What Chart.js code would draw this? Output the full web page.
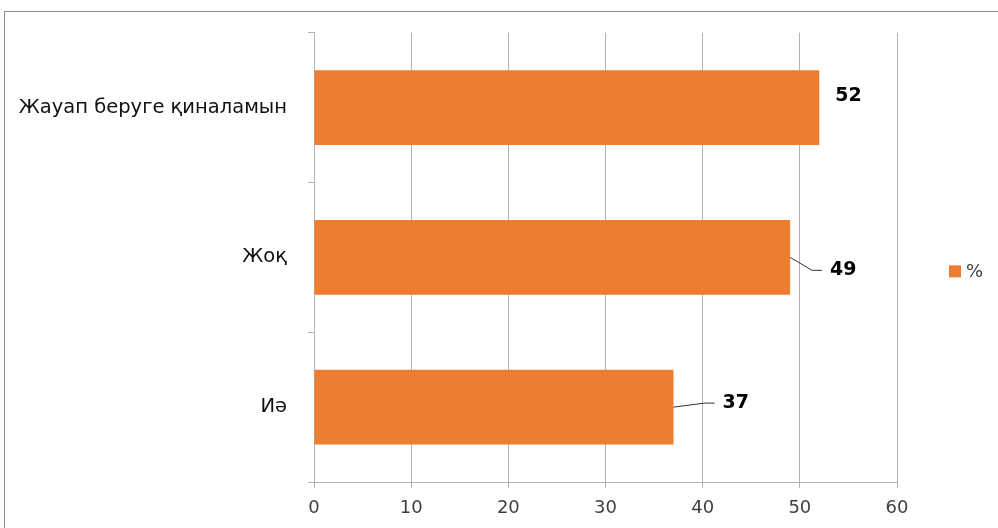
<!DOCTYPE html>
<html><head><meta charset="utf-8">
<script src="https://cdn.jsdelivr.net/npm/chart.js@4/dist/chart.umd.min.js"></script>
<style>
html,body{margin:0;padding:0;background:#fff;overflow:hidden}
#frame{position:absolute;left:4px;top:11px;width:1200px;height:700px;border:1px solid #8c8c8c;box-sizing:border-box}
#wrap{position:absolute;left:0;top:0;width:998px;height:528px}
</style></head>
<body>
<div id="frame"></div>
<div id="wrap"><canvas id="c" width="998" height="528"></canvas></div>
<script>
const categories = ['Жауап беруге қиналамын', 'Жоқ', 'Иә'];
const seriesName = '%';
const values = [52, 49, 37];
const xTicks = [0, 10, 20, 30, 40, 50, 60];

// label placement styles (offsets relative to bar end / bar centre)
const labelStyle = [
  {dx: 16, dy: -12, leader: false},
  {dx: 40, dy: 13, leader: true},
  {dx: 49, dy: -4, leader: true}
];

const orange = '#ED7D31';
const grid = '#b3b3b3';

const labelsPlugin = {
  id: 'labels',
  afterDatasetsDraw(chart) {
    const ctx = chart.ctx;
    const meta = chart.getDatasetMeta(0);
    ctx.save();
    meta.data.forEach((bar, i) => {
      const s = labelStyle[i];
      const x0 = bar.x, y0 = bar.y;
      const lx = x0 + s.dx, ly = y0 + s.dy;
      if (s.leader) {
        ctx.strokeStyle = '#333';
        ctx.lineWidth = 1;
        ctx.beginPath();
        ctx.moveTo(x0, y0);
        ctx.lineTo(lx - 18, ly);
        ctx.lineTo(lx - 8, ly);
        ctx.stroke();
      }
      ctx.fillStyle = '#000';
      ctx.font = 'bold 19px "DejaVu Sans"';
      ctx.textAlign = 'left';
      ctx.textBaseline = 'middle';
      ctx.fillText(String(values[i]), lx, ly);
    });
    // legend
    const ca = chart.chartArea;
    const cy = (ca.top + ca.bottom) / 2 + 14;
    ctx.fillStyle = orange;
    ctx.fillRect(949, cy - 6, 12, 12);
    ctx.fillStyle = '#404040';
    ctx.font = '18px "DejaVu Sans"';
    ctx.textBaseline = 'middle';
    ctx.fillText(seriesName, 966, cy + 1);
    ctx.restore();
  }
};

new Chart(document.getElementById('c'), {
  type: 'bar',
  data: {
    labels: categories,
    datasets: [{label: seriesName, data: values, backgroundColor: orange, categoryPercentage: 0.5, barPercentage: 1}]
  },
  options: {
    indexAxis: 'y',
    responsive: false,
    animation: false,
    layout: {padding: {left: 0, right: 101, top: 31, bottom: 0}},
    plugins: {legend: {display: false}, tooltip: {enabled: false}},
    scales: {
      x: {
        min: 0, max: 60,
        afterBuildTicks(ax) { ax.ticks = xTicks.map(v => ({value: v})); },
        grid: {color: grid, lineWidth: 1, drawTicks: true, tickLength: 6},
        border: {color: grid, width: 1},
        ticks: {color: '#404040', font: {family: 'DejaVu Sans', size: 18}, padding: 10},
        afterFit(ax) { ax.height = 46; }
      },
      y: {
        grid: {display: true, offset: true, drawOnChartArea: false, drawTicks: true, tickLength: 6, color: grid},
        border: {color: grid, width: 1},
        ticks: {color: '#111', font: {family: 'DejaVu Sans', size: 19.5}, padding: 21},
        afterFit(ax) { ax.width = 314; }
      }
    }
  },
  plugins: [labelsPlugin]
});
</script>
</body></html>
